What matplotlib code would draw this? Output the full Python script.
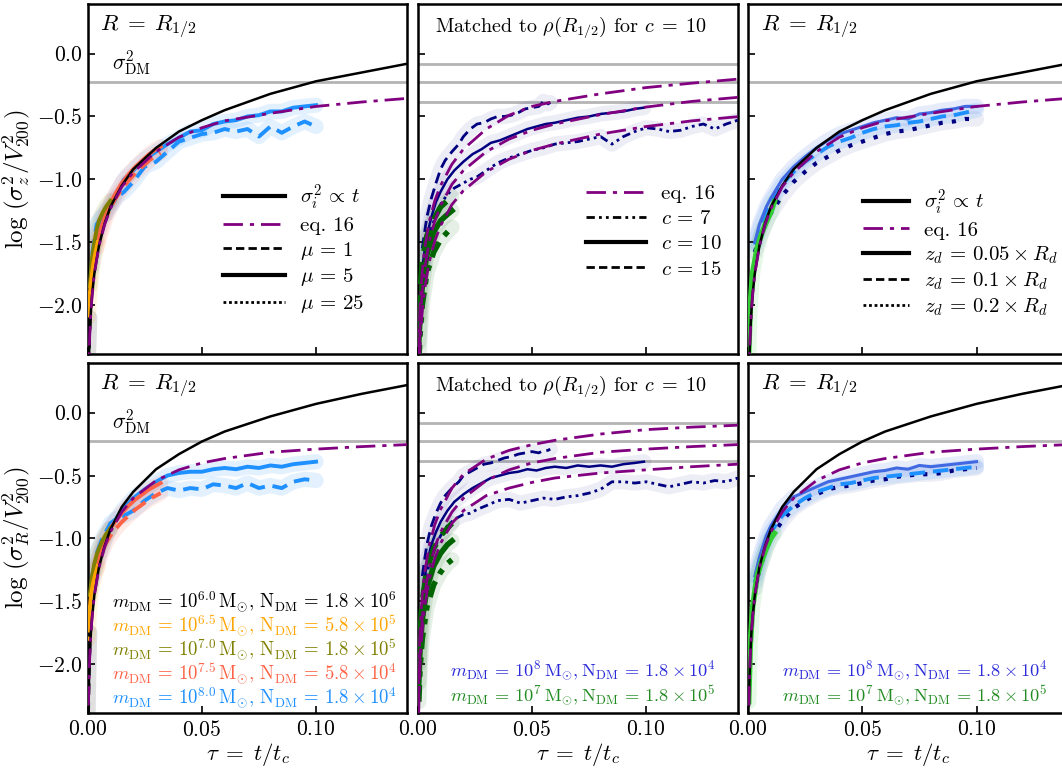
import matplotlib
matplotlib.use('Agg')
import matplotlib.pyplot as plt
from matplotlib.lines import Line2D

plt.rcParams['font.family'] = 'serif'
plt.rcParams['font.serif'] = ['cmr10']
plt.rcParams['mathtext.fontset'] = 'cm'
plt.rcParams['axes.formatter.use_mathtext'] = True
plt.rcParams['axes.unicode_minus'] = True

# ---------------------------------------------------------------- model curves
TAU_MODEL = [0.0004, 0.0007, 0.001, 0.0015, 0.002, 0.003, 0.005, 0.0075, 0.01, 0.015,
             0.02, 0.03, 0.04, 0.05, 0.06, 0.08, 0.10, 0.12, 0.14]

SIGZ_LINEAR = [-2.62, -2.38, -2.22, -2.05, -1.92, -1.75, -1.53, -1.35, -1.22, -1.05,
               -0.92, -0.75, -0.62, -0.53, -0.45, -0.32, -0.22, -0.15, -0.08]
SIGZ_EQ16 = [-2.62, -2.38, -2.23, -2.05, -1.93, -1.75, -1.53, -1.36, -1.235, -1.06,
             -0.945, -0.78, -0.665, -0.59, -0.535, -0.475, -0.42, -0.385, -0.356]
SIGR_LINEAR = [-2.33, -2.09, -1.93, -1.75, -1.63, -1.45, -1.23, -1.06, -0.93, -0.75,
               -0.63, -0.45, -0.33, -0.23, -0.15, -0.03, 0.07, 0.15, 0.22]
SIGR_EQ16 = [-2.33, -2.09, -1.93, -1.755, -1.63, -1.455, -1.235, -1.07, -0.95, -0.79,
             -0.68, -0.54, -0.455, -0.40, -0.365, -0.315, -0.29, -0.27, -0.254]

# eq. 16 for the three concentrations (c = 15, 10, 7)
SIGZ_EQ16_C15 = [-2.43, -2.19, -2.03, -1.86, -1.73, -1.56, -1.34, -1.17, -1.05, -0.88,
                 -0.76, -0.60, -0.49, -0.42, -0.38, -0.32, -0.27, -0.235, -0.203]
SIGZ_EQ16_C10 = [-2.59, -2.35, -2.19, -2.02, -1.89, -1.72, -1.50, -1.33, -1.21, -1.04,
                 -0.93, -0.78, -0.68, -0.61, -0.56, -0.485, -0.425, -0.38, -0.348]
SIGZ_EQ16_C7 = [-2.75, -2.51, -2.35, -2.18, -2.05, -1.88, -1.66, -1.49, -1.37, -1.20,
                -1.09, -0.94, -0.84, -0.77, -0.72, -0.64, -0.58, -0.535, -0.502]
SIGR_EQ16_C15 = [-2.16, -1.92, -1.76, -1.58, -1.46, -1.28, -1.06, -0.89, -0.77, -0.60,
                 -0.49, -0.37, -0.30, -0.255, -0.22, -0.17, -0.135, -0.115, -0.10]
SIGR_EQ16_C10 = SIGR_EQ16
SIGR_EQ16_C7 = [-2.42, -2.18, -2.03, -1.85, -1.73, -1.55, -1.33, -1.16, -1.04, -0.88,
                -0.78, -0.66, -0.60, -0.555, -0.52, -0.48, -0.455, -0.43, -0.41]

SIG_DM = [-0.229]
SIG_DM_C = [-0.086, -0.229, -0.383]

# ---------------------------------------------------------------- resolution runs
TAU_BLUE = [0.002, 0.004, 0.006, 0.008, 0.01, 0.013, 0.016, 0.02, 0.025, 0.03, 0.035,
            0.04, 0.045, 0.05, 0.055, 0.06, 0.065, 0.07, 0.075, 0.08, 0.085, 0.09,
            0.095, 0.1]
SIGZ_BLUE_MU5 = [-1.7, -1.45, -1.32, -1.25, -1.2, -1.1, -1.0, -0.93, -0.84, -0.78, -0.72,
                 -0.67, -0.62, -0.61, -0.56, -0.54, -0.53, -0.5, -0.49, -0.46, -0.46,
                 -0.43, -0.42, -0.41]
SIGZ_BLUE_MU1 = [-1.6, -1.36, -1.3, -1.28, -1.22, -1.14, -1.1, -1.02, -0.9, -0.86, -0.78,
                 -0.7, -0.67, -0.64, -0.63, -0.6, -0.62, -0.6, -0.66, -0.58, -0.63,
                 -0.58, -0.54, -0.58]
SIGR_BLUE_MU5 = [-1.35, -1.2, -1.1, -1.0, -0.92, -0.83, -0.76, -0.68, -0.61, -0.55, -0.5,
                 -0.48, -0.47, -0.47, -0.45, -0.44, -0.45, -0.43, -0.44, -0.42, -0.43,
                 -0.41, -0.4, -0.39]
SIGR_BLUE_MU1 = [-1.3, -1.12, -1.02, -0.95, -0.88, -0.84, -0.82, -0.78, -0.7, -0.64, -0.6,
                 -0.62, -0.6, -0.61, -0.57, -0.58, -0.6, -0.56, -0.6, -0.58, -0.6,
                 -0.55, -0.53, -0.54]

TAU_TOMATO = [0.004, 0.006, 0.008, 0.01, 0.012, 0.015, 0.018, 0.021, 0.024, 0.027, 0.03,
              0.032]
SIGZ_TOMATO = [-1.5, -1.38, -1.27, -1.19, -1.12, -1.03, -0.96, -0.9, -0.85, -0.8, -0.76,
               -0.74]
SIGZ_TOMATO_MU1 = [-1.55, -1.42, -1.31, -1.23, -1.16, -1.08, -1.01, -0.95, -0.9, -0.85,
                   -0.81, -0.79]
SIGR_TOMATO = [-1.2, -1.08, -0.98, -0.92, -0.87, -0.8, -0.74, -0.69, -0.65, -0.61, -0.58,
               -0.56]
SIGR_TOMATO_MU1 = [-1.25, -1.13, -1.04, -0.98, -0.93, -0.87, -0.82, -0.77, -0.73, -0.69,
                   -0.66, -0.64]

TAU_OLIVE = [0.001, 0.002, 0.003, 0.004, 0.005, 0.0065, 0.008, 0.01]
SIGZ_OLIVE = [-1.85, -1.62, -1.5, -1.4, -1.33, -1.27, -1.22, -1.17]
SIGR_OLIVE = [-1.45, -1.3, -1.2, -1.13, -1.08, -1.02, -0.97, -0.92]

TAU_ORANGE = [0.0003, 0.0008, 0.0015, 0.0025, 0.0035, 0.0045]
SIGZ_ORANGE = [-2.1, -1.95, -1.82, -1.68, -1.58, -1.5]
SIGR_ORANGE = [-1.8, -1.6, -1.45, -1.35, -1.28, -1.22]

TAU_BLACK = [0.0002, 0.0005, 0.0008, 0.001]
SIGZ_BLACK = [-2.5, -2.35, -2.2, -2.1]
SIGR_BLACK = [-2.4, -2.1, -1.85, -1.75]

# ---------------------------------------------------------------- concentration runs
TAU_C15 = [0.002, 0.004, 0.006, 0.008, 0.01, 0.012, 0.015, 0.018, 0.02, 0.023, 0.026,
           0.029, 0.032, 0.035, 0.038, 0.041, 0.044, 0.047, 0.05, 0.053, 0.055, 0.057,
           0.058]
SIGZ_C15 = [-1.55, -1.3, -1.15, -1.03, -0.92, -0.85, -0.78, -0.72, -0.66, -0.6, -0.56,
            -0.55, -0.52, -0.5, -0.5, -0.49, -0.47, -0.44, -0.43, -0.42, -0.38, -0.4,
            -0.39]
SIGR_C15 = [-1.3, -1.05, -0.9, -0.8, -0.72, -0.66, -0.6, -0.55, -0.5, -0.47, -0.44,
            -0.41, -0.4, -0.38, -0.36, -0.35, -0.33, -0.32, -0.31, -0.32, -0.3, -0.3,
            -0.29]

TAU_C10 = [0.002, 0.004, 0.006, 0.008, 0.01, 0.013, 0.016, 0.02, 0.024, 0.028, 0.032,
           0.036, 0.04, 0.044, 0.048, 0.052, 0.056, 0.06, 0.065, 0.07, 0.075, 0.08,
           0.085, 0.09, 0.095, 0.099]
SIGZ_C10 = [-1.7, -1.45, -1.3, -1.18, -1.1, -1.0, -0.93, -0.86, -0.8, -0.76, -0.71,
            -0.69, -0.66, -0.63, -0.6, -0.58, -0.56, -0.55, -0.53, -0.51, -0.5, -0.48,
            -0.47, -0.46, -0.44, -0.43]
SIGR_C10 = [-1.45, -1.2, -1.05, -0.95, -0.87, -0.78, -0.71, -0.65, -0.6, -0.56, -0.52,
            -0.5, -0.48, -0.47, -0.45, -0.46, -0.44, -0.43, -0.44, -0.42, -0.43, -0.42,
            -0.43, -0.41, -0.4, -0.39]

TAU_C7 = [0.003, 0.005, 0.008, 0.01, 0.013, 0.016, 0.02, 0.023, 0.026, 0.03, 0.035,
          0.04, 0.045, 0.05, 0.055, 0.06, 0.065, 0.07, 0.075, 0.08, 0.085, 0.09, 0.095,
          0.1, 0.105, 0.11, 0.115, 0.12, 0.125, 0.13, 0.135, 0.14]
SIGZ_C7 = [-1.65, -1.45, -1.28, -1.2, -1.12, -1.07, -1.03, -1.0, -0.98, -0.93, -0.87,
           -0.83, -0.8, -0.77, -0.75, -0.72, -0.71, -0.7, -0.68, -0.66, -0.72, -0.66,
           -0.62, -0.59, -0.6, -0.62, -0.61, -0.58, -0.56, -0.6, -0.56, -0.53]
SIGR_C7 = [-1.4, -1.2, -1.05, -0.98, -0.9, -0.85, -0.81, -0.8, -0.77, -0.74, -0.7,
           -0.69, -0.72, -0.7, -0.68, -0.69, -0.67, -0.66, -0.64, -0.61, -0.55, -0.55,
           -0.56, -0.55, -0.57, -0.59, -0.57, -0.55, -0.56, -0.54, -0.55, -0.52]

TAU_GREEN_C = [0.0005, 0.001, 0.002, 0.004, 0.007, 0.01, 0.013, 0.015]
SIGZ_GREEN_C15 = [-2.1, -1.9, -1.65, -1.45, -1.32, -1.22, -1.17, -1.14]
SIGZ_GREEN_C10 = [-2.3, -2.1, -1.85, -1.6, -1.42, -1.33, -1.28, -1.25]
SIGZ_GREEN_C7 = [-2.45, -2.25, -2.0, -1.75, -1.58, -1.48, -1.42, -1.38]
SIGR_GREEN_C15 = [-2.0, -1.75, -1.5, -1.25, -1.08, -0.98, -0.92, -0.88]
SIGR_GREEN_C10 = [-2.15, -1.9, -1.65, -1.4, -1.22, -1.12, -1.05, -1.02]
SIGR_GREEN_C7 = [-2.3, -2.05, -1.8, -1.55, -1.37, -1.27, -1.2, -1.17]

# ---------------------------------------------------------------- disc thickness runs
TAU_ZD = [0.003, 0.005, 0.008, 0.01, 0.015, 0.02, 0.025, 0.03, 0.035, 0.04, 0.045,
          0.05, 0.055, 0.06, 0.065, 0.07, 0.075, 0.08, 0.085, 0.09, 0.095, 0.1]
SIGZ_ZD005 = [-1.5, -1.36, -1.22, -1.15, -1.0, -0.9, -0.82, -0.75, -0.69, -0.64, -0.61,
              -0.58, -0.55, -0.53, -0.51, -0.52, -0.48, -0.47, -0.45, -0.44, -0.42,
              -0.42]
SIGZ_ZD01 = [-1.52, -1.4, -1.26, -1.18, -1.04, -0.94, -0.86, -0.8, -0.74, -0.7, -0.67,
             -0.63, -0.6, -0.58, -0.57, -0.55, -0.54, -0.52, -0.5, -0.49, -0.47, -0.45]
SIGZ_ZD02 = [-1.58, -1.47, -1.34, -1.27, -1.13, -1.02, -0.94, -0.87, -0.82, -0.77,
             -0.73, -0.7, -0.67, -0.64, -0.62, -0.61, -0.59, -0.57, -0.55, -0.54,
             -0.52, -0.52]
SIGR_ZD005 = [-1.3, -1.15, -0.98, -0.9, -0.76, -0.67, -0.63, -0.59, -0.55, -0.53,
              -0.51, -0.49, -0.47, -0.46, -0.44, -0.45, -0.42, -0.43, -0.42, -0.41,
              -0.4, -0.39]
SIGR_ZD01 = [-1.35, -1.2, -1.03, -0.95, -0.82, -0.74, -0.68, -0.63, -0.6, -0.57, -0.56,
             -0.54, -0.52, -0.51, -0.5, -0.49, -0.48, -0.47, -0.46, -0.45, -0.44, -0.43]
SIGR_ZD02 = [-1.4, -1.25, -1.08, -1.0, -0.86, -0.76, -0.7, -0.65, -0.61, -0.59, -0.58,
             -0.56, -0.54, -0.53, -0.51, -0.5, -0.49, -0.49, -0.48, -0.46, -0.45, -0.44]

TAU_GREEN_ZD = [0.0003, 0.001, 0.002, 0.004, 0.006, 0.008, 0.01, 0.0115]
SIGZ_GREEN_ZD = [-2.4, -2.0, -1.75, -1.55, -1.43, -1.34, -1.26, -1.18]
SIGR_GREEN_ZD = [-2.3, -1.85, -1.55, -1.3, -1.18, -1.08, -1.0, -0.96]

RES_LABELS = [
    r'$m_{\rm DM}\,=\,10^{6.0}\,{\rm M_{\odot}},\,{\rm N_{DM}}\,=\,1.8\times10^{6}$',
    r'$m_{\rm DM}\,=\,10^{6.5}\,{\rm M_{\odot}},\,{\rm N_{DM}}\,=\,5.8\times10^{5}$',
    r'$m_{\rm DM}\,=\,10^{7.0}\,{\rm M_{\odot}},\,{\rm N_{DM}}\,=\,1.8\times10^{5}$',
    r'$m_{\rm DM}\,=\,10^{7.5}\,{\rm M_{\odot}},\,{\rm N_{DM}}\,=\,5.8\times10^{4}$',
    r'$m_{\rm DM}\,=\,10^{8.0}\,{\rm M_{\odot}},\,{\rm N_{DM}}\,=\,1.8\times10^{4}$',
]
RES_COLORS = ['black', 'orange', 'olive', 'tomato', 'dodgerblue']
PAIR_LABELS = [
    r'$m_{\rm DM}\,=\,10^{8}\,{\rm M_{\odot}},{\rm N_{DM}}\,=\,1.8\times10^{4}$',
    r'$m_{\rm DM}\,=\,10^{7}\,{\rm M_{\odot}},{\rm N_{DM}}\,=\,1.8\times10^{5}$',
]

PURPLE = 'purple'
GREY = '#b4b4b4'
EQ16_LS = (0, (7, 2.5, 1.5, 2.5))
DASHDOTDOT = (0, (3, 1.5, 1, 1.5, 1, 1.5))
DOTS = (0, (1, 2.2))
HALO_ALPHA = {'navy': 0.07, 'darkgreen': 0.1}


def run(ax, tau, val, color, ls='-', lw=2.2):
    ax.plot(tau, val, color=color, lw=11, alpha=HALO_ALPHA.get(color, 0.12),
            solid_capstyle='round', zorder=1)
    ax.plot(tau, val, color=color, ls=ls, lw=lw, zorder=3)


def models(ax, linear, eq16, dm_levels):
    for lev in dm_levels:
        ax.axhline(lev, color=GREY, lw=2, zorder=0)
    if linear is not None:
        ax.plot(TAU_MODEL, linear, color='black', lw=1.8, zorder=4)
    for curve in eq16:
        ax.plot(TAU_MODEL, curve, color=PURPLE, lw=2, ls=EQ16_LS, zorder=5)


def add_legend(ax, handles, anchor, hlen, spacing=0.22):
    ax.legend(handles=handles, loc='upper left', bbox_to_anchor=anchor, frameon=False,
              fontsize=15, handlelength=hlen, labelspacing=spacing, handletextpad=0.7,
              borderpad=0, borderaxespad=0)


fig = plt.figure(figsize=(10.62, 7.68), dpi=100)
W, H = 0.3013, 0.4557
xs = [0.0824, 0.3933, 0.7043]
ys = [0.5391, 0.0716]
axes = [[fig.add_axes([x, y, W, H]) for x in xs] for y in ys]

for row in axes:
    for ax in row:
        ax.set_xlim(0, 0.14)
        ax.set_ylim(-2.39, 0.395)
        ax.set_xticks([0, 0.05, 0.10])
        ax.set_yticks([-2.0, -1.5, -1.0, -0.5, 0.0])
        ax.tick_params(direction='in', length=5, width=1.2, labelsize=15.5)
        ax.tick_params(axis='y', pad=3.5)
        ax.tick_params(axis='x', pad=5)
        for sp in ax.spines.values():
            sp.set_linewidth(1.8)
for ax in axes[0]:
    ax.tick_params(labelbottom=False)
for row in axes:
    for ax in row[1:]:
        ax.tick_params(labelleft=False)

R_HALF = r'$R\;=\;R_{1/2}$'

# --- left column: mass resolution
for ax, lin, eq, key in [(axes[0][0], SIGZ_LINEAR, SIGZ_EQ16, 'z'),
                         (axes[1][0], SIGR_LINEAR, SIGR_EQ16, 'R')]:
    d = dict(z=(SIGZ_BLACK, SIGZ_ORANGE, SIGZ_OLIVE, SIGZ_TOMATO, SIGZ_TOMATO_MU1,
                SIGZ_BLUE_MU5, SIGZ_BLUE_MU1),
             R=(SIGR_BLACK, SIGR_ORANGE, SIGR_OLIVE, SIGR_TOMATO, SIGR_TOMATO_MU1,
                SIGR_BLUE_MU5, SIGR_BLUE_MU1))[key]
    run(ax, TAU_BLUE, d[6], 'dodgerblue', ls=(0, (4, 2)), lw=2.8)
    run(ax, TAU_BLUE, d[5], 'dodgerblue', lw=2.8)
    run(ax, TAU_TOMATO, d[4], 'tomato', ls=(0, (4, 2)), lw=2.8)
    run(ax, TAU_TOMATO, d[3], 'tomato', lw=2.8)
    run(ax, TAU_OLIVE, d[2], 'olive', lw=2.8)
    run(ax, TAU_ORANGE, d[1], 'orange', lw=2.8)
    run(ax, TAU_BLACK, d[0], 'black', ls=(0, (3, 2)), lw=2.8)
    models(ax, lin, [eq], SIG_DM)
    ax.text(0.04, 0.935, R_HALF, transform=ax.transAxes, fontsize=16.5, va='center')
    ax.text(0.075, 0.83, r'$\sigma^2_{\rm DM}$', transform=ax.transAxes, fontsize=15.5,
            va='center')

axes[0][0].set_ylabel(r'$\log\,(\sigma_z^2/V_{200}^2)$', fontsize=18, labelpad=4)
axes[1][0].set_ylabel(r'$\log\,(\sigma_R^2/V_{200}^2)$', fontsize=18, labelpad=4)

for i, (lab, col) in enumerate(zip(RES_LABELS, RES_COLORS)):
    axes[1][0].text(0.078, 0.317 - i * 0.0685, lab, color=col, fontsize=13.5,
                    transform=axes[1][0].transAxes, va='center')

h_res = [Line2D([], [], color='black', lw=3, label=r'$\sigma_i^2\,\propto\,t$'),
         Line2D([], [], color=PURPLE, lw=2, ls=EQ16_LS, label='eq. 16'),
         Line2D([], [], color='black', lw=2, ls=(0, (3, 1.5)), label=r'$\mu\,=\,1$'),
         Line2D([], [], color='black', lw=3, label=r'$\mu\,=\,5$'),
         Line2D([], [], color='black', lw=2, ls=(0, (1, 1)), label=r'$\mu\,=\,25$')]
add_legend(axes[0][0], h_res, (0.423, 0.49), 3.0)

# --- middle column: matched concentrations
for ax, key in [(axes[0][1], 'z'), (axes[1][1], 'R')]:
    if key == 'z':
        c15, c10, c7 = SIGZ_C15, SIGZ_C10, SIGZ_C7
        g15, g10, g7 = SIGZ_GREEN_C15, SIGZ_GREEN_C10, SIGZ_GREEN_C7
        eqs = [SIGZ_EQ16_C15, SIGZ_EQ16_C10, SIGZ_EQ16_C7]
    else:
        c15, c10, c7 = SIGR_C15, SIGR_C10, SIGR_C7
        g15, g10, g7 = SIGR_GREEN_C15, SIGR_GREEN_C10, SIGR_GREEN_C7
        eqs = [SIGR_EQ16_C15, SIGR_EQ16_C10, SIGR_EQ16_C7]
    run(ax, TAU_C7, c7, 'navy', ls=DASHDOTDOT, lw=2)
    run(ax, TAU_C10, c10, 'navy', lw=1.8)
    run(ax, TAU_C15, c15, 'navy', ls=(0, (4, 2)), lw=2)
    run(ax, TAU_GREEN_C, g7, 'darkgreen', ls=DASHDOTDOT, lw=4)
    run(ax, TAU_GREEN_C, g10, 'darkgreen', lw=4)
    run(ax, TAU_GREEN_C, g15, 'darkgreen', ls=(0, (4, 2)), lw=4)
    models(ax, None, eqs, SIG_DM_C)
    ax.text(0.055, 0.935, r'Matched to $\rho(R_{1/2})$ for $c\;=\;10$',
            transform=ax.transAxes, fontsize=14.5, va='center')

h_c = [Line2D([], [], color=PURPLE, lw=2, ls=EQ16_LS, label='eq. 16'),
       Line2D([], [], color='black', lw=2, ls=DASHDOTDOT, label=r'$c\,=\,7$'),
       Line2D([], [], color='black', lw=3, label=r'$c\,=\,10$'),
       Line2D([], [], color='black', lw=2, ls=(0, (3, 1.5)), label=r'$c\,=\,15$')]
add_legend(axes[0][1], h_c, (0.526, 0.485), 2.9, spacing=0.32)

# --- right column: disc thickness
for ax, lin, eq, key in [(axes[0][2], SIGZ_LINEAR, SIGZ_EQ16, 'z'),
                         (axes[1][2], SIGR_LINEAR, SIGR_EQ16, 'R')]:
    if key == 'z':
        z1, z2, z3, g = SIGZ_ZD005, SIGZ_ZD01, SIGZ_ZD02, SIGZ_GREEN_ZD
    else:
        z1, z2, z3, g = SIGR_ZD005, SIGR_ZD01, SIGR_ZD02, SIGR_GREEN_ZD
    run(ax, TAU_ZD, z3, 'navy', ls=DOTS, lw=3)
    run(ax, TAU_ZD, z2, 'dodgerblue', ls=(0, (4, 2)), lw=2.8)
    run(ax, TAU_ZD, z1, 'royalblue', lw=2.2)
    run(ax, TAU_GREEN_ZD, g, 'limegreen', lw=4)
    models(ax, lin, [eq], SIG_DM)
    ax.text(0.04, 0.935, R_HALF, transform=ax.transAxes, fontsize=16.5, va='center')

h_zd = [Line2D([], [], color='black', lw=3, label=r'$\sigma_i^2\,\propto\,t$'),
        Line2D([], [], color=PURPLE, lw=2, ls=EQ16_LS, label='eq. 16'),
        Line2D([], [], color='black', lw=3, label=r'$z_d\,=\,0.05\times R_d$'),
        Line2D([], [], color='black', lw=2, ls=(0, (3, 1.5)),
               label=r'$z_d\,=\,0.1\times R_d$'),
        Line2D([], [], color='black', lw=2, ls=(0, (1, 1)),
               label=r'$z_d\,=\,0.2\times R_d$')]
add_legend(axes[0][2], h_zd, (0.36, 0.477), 2.2)

for ax, x0 in [(axes[1][1], 0.1), (axes[1][2], 0.105)]:
    ax.text(x0, 0.123, PAIR_LABELS[0], color='#2b2bd9', fontsize=13.2,
            transform=ax.transAxes, va='center')
    ax.text(x0, 0.052, PAIR_LABELS[1], color='forestgreen', fontsize=13.2,
            transform=ax.transAxes, va='center')

for ax in axes[1]:
    ax.set_xlabel(r'$\tau\;=\;t/t_c$', fontsize=16.5, labelpad=1)

fig.savefig('out.png', dpi=100)
